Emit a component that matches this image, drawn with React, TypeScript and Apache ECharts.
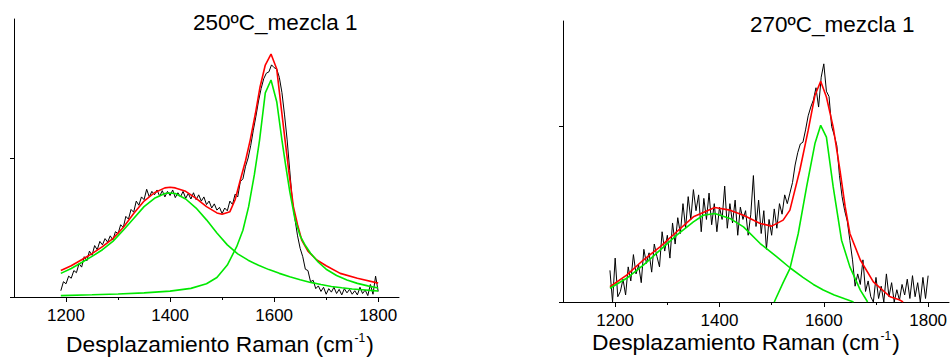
import React, { useEffect, useRef } from "react";
import * as echarts from "echarts";

// ---------- texts and ticks ----------
const leftTitle = "250ºC_mezcla 1";
const rightTitle = "270ºC_mezcla 1";
const axisName = "Desplazamiento Raman (cm{sup|-1})";
const majorTicks = [1200, 1400, 1600, 1800];
const minorTicks = [1300, 1500, 1700];

// ---------- Panel 1: 250ºC_mezcla 1 ----------
// measured spectrum, sampled every 5 cm-1 from 1190 to 1800
const specStart = 1190;
const specStep = 5;
const leftSpectrum = [
  45, 110, 95, 150, 135, 190, 175, 240, 215, 290, 260, 330, 300, 370, 340, 400, 375, 420, 395, 440,
  410, 470, 455, 520, 500, 580, 560, 630, 610, 690, 660, 720, 700, 775, 720, 760, 735, 770, 725, 765,
  720, 760, 730, 770, 715, 750, 720, 760, 710, 745, 705, 750, 700, 735, 690, 720, 665, 690, 640, 670,
  625, 645, 600, 640, 620, 690, 665, 740, 720, 830, 850, 940, 1000, 1090, 1200, 1300, 1410, 1500, 1570, 1610,
  1620, 1670, 1650, 1640, 1580, 1470, 1310, 1130, 910, 690, 560, 440, 350, 290, 200, 190, 110, 120, 60, 80,
  40, 70, 20, 60, 35, 70, 25, 55, 15, 60, 30, 55, 20, 45, 15, 70, 25, 50, 10, 90,
  20, 150, 40,
];
const leftFitX = [1190, 1210, 1230, 1250, 1270, 1290, 1310, 1330, 1350, 1370, 1390, 1400, 1410, 1430, 1450, 1470, 1490, 1500, 1515, 1525, 1535, 1545, 1554, 1564, 1573, 1583, 1594, 1605, 1613, 1621, 1629, 1637, 1645, 1653, 1665, 1682, 1700, 1727, 1760, 1800];
const leftFitY = [190, 225, 268, 312, 362, 420, 500, 600, 690, 750, 785, 790, 785, 760, 710, 650, 605, 595, 614, 700, 842, 980, 1129, 1320, 1513, 1669, 1748, 1640, 1380, 1129, 880, 650, 520, 410, 330, 266, 225, 170, 135, 100];
const leftDX = [1190, 1210, 1230, 1250, 1270, 1290, 1310, 1330, 1350, 1370, 1390, 1400, 1410, 1430, 1450, 1470, 1490, 1510, 1530, 1550, 1570, 1590, 1610, 1630, 1650, 1670, 1690, 1710, 1730, 1750, 1770, 1790, 1800];
const leftDY = [170, 205, 248, 292, 340, 400, 480, 565, 650, 710, 745, 748, 745, 705, 640, 555, 460, 375, 310, 265, 228, 197, 170, 145, 124, 105, 90, 76, 66, 58, 52, 46, 43];
const leftGX = [1190, 1250, 1300, 1350, 1400, 1440, 1470, 1490, 1510, 1528, 1540, 1551, 1562, 1572, 1583, 1594, 1605, 1615, 1622, 1630, 1640, 1650, 1660, 1670, 1685, 1700, 1720, 1740, 1760, 1780, 1800];
const leftGY = [10, 16, 22, 30, 42, 62, 95, 140, 230, 362, 480, 650, 880, 1129, 1468, 1561, 1405, 1129, 950, 760, 560, 440, 370, 315, 250, 200, 155, 122, 98, 80, 65];

// ---------- Panel 2: 270ºC_mezcla 1 ----------
const rightSpectrum = [
  180, 0, 250, 30, 60, 130, 40, 200, 120, 270, 160, 210, 110, 300, 220, 280, 170, 330, 260, 200,
  400, 290, 380, 250, 450, 330, 480, 390, 560, 420, 600, 470, 640, 520, 610, 400, 590, 470, 620, 440,
  560, 400, 540, 470, 660, 420, 560, 450, 580, 380, 540, 470, 520, 380, 500, 720, 430, 580, 390, 520,
  300, 470, 380, 530, 420, 560, 500, 610, 560, 620, 680, 780, 850, 900, 910, 980, 1060, 1110, 1150, 1220,
  1110, 1280, 1356, 1200, 1170, 1000, 950, 890, 720, 600, 520, 460, 350, 240, 90, 160, 100, 240, 60, 120,
  30, 0, 140, 20, 90, 0, 160, 30, 110, 0, 70, 10, 100, 40, 130, 20, 150, 30, 110, 0,
  140, 20, 150,
];
const rightFitX = [1190, 1222, 1254, 1286, 1318, 1350, 1391, 1420, 1446, 1478, 1500, 1522, 1535, 1554, 1570, 1583, 1594, 1605, 1618, 1631, 1641, 1650, 1670, 1695, 1727, 1746, 1752];
const rightFitY = [87, 153, 239, 314, 400, 485, 538, 523, 494, 447, 432, 466, 523, 750, 977, 1176, 1257, 1167, 996, 750, 541, 390, 239, 115, 30, 11, 0];
const rightDX = [1190, 1222, 1254, 1286, 1318, 1350, 1369, 1391, 1420, 1446, 1478, 1510, 1535, 1560, 1580, 1599, 1620, 1640, 1657];
const rightDY = [78, 135, 210, 295, 381, 456, 494, 504, 476, 428, 333, 257, 195, 140, 100, 68, 40, 18, 0];
const rightGX = [1505, 1522, 1535, 1551, 1567, 1583, 1594, 1605, 1618, 1634, 1650, 1670, 1684];
const rightGY = [0, 110, 190, 390, 655, 902, 1006, 939, 655, 352, 200, 68, 0];

const FONT = "'Liberation Sans', Arial, sans-serif";
const BLACK = "#000000";
const RED = "#ff0000";
const GREEN = "#00e800";

const zip = (xs: number[], ys: number[]) => xs.map((x, i) => [x, ys[i]]);
const spec = (ys: number[]) => ys.map((y, i) => [specStart + i * specStep, y]);

function xAxes(gridIndex: number) {
  return [
    {
      type: "value",
      gridIndex,
      position: "bottom",
      min: 1100,
      max: 1840,
      axisLine: { show: true, onZero: false, lineStyle: { color: BLACK, width: 1 } },
      axisTick: { show: true, inside: false, length: 5, customValues: majorTicks, lineStyle: { color: BLACK } },
      axisLabel: {
        show: true,
        customValues: majorTicks,
        formatter: (v: number) => String(v),
        fontSize: 17,
        color: BLACK,
        fontFamily: FONT,
        margin: 10,
      },
      splitLine: { show: false },
    },
    {
      type: "value",
      gridIndex,
      position: "bottom",
      offset: 0,
      min: 1100,
      max: 1840,
      axisLine: { show: false, onZero: false },
      axisTick: { show: true, inside: false, length: 3, customValues: minorTicks, lineStyle: { color: BLACK } },
      axisLabel: { show: false },
      splitLine: { show: false },
    },
  ];
}

function yAxis(gridIndex: number, max: number) {
  return {
    type: "value",
    gridIndex,
    position: "left",
    min: 0,
    max,
    axisLine: { show: true, onZero: false, lineStyle: { color: BLACK, width: 1 } },
    axisTick: { show: true, inside: false, length: 4, customValues: [0, 1000], lineStyle: { color: BLACK } },
    axisLabel: { show: false },
    splitLine: { show: false },
  };
}

function lines(xi: number, yi: number, black: number[][], fit: number[][], d: number[][], g: number[][]) {
  const base = { type: "line", xAxisIndex: xi, yAxisIndex: yi, symbol: "none", showSymbol: false, clip: true, silent: true };
  return [
    { ...base, name: "black", data: black, lineStyle: { color: BLACK, width: 1 }, z: 2 },
    { ...base, name: "fit", data: fit, lineStyle: { color: RED, width: 1.6 }, z: 3 },
    { ...base, name: "d", data: d, lineStyle: { color: GREEN, width: 1.6 }, z: 4 },
    { ...base, name: "g", data: g, lineStyle: { color: GREEN, width: 1.6 }, z: 4 },
  ];
}

const titleStyle = { fontSize: 22.5, fontWeight: "normal", color: BLACK, fontFamily: FONT };
const nameStyle = {
  fontSize: 22.8,
  fontWeight: "normal",
  color: BLACK,
  fontFamily: FONT,
  rich: { sup: { fontSize: 12, fontFamily: FONT, color: BLACK, verticalAlign: "top", padding: [0, 1, 0, 1] } },
};

export default function App() {
  const ref = useRef<HTMLDivElement>(null);
  useEffect(() => {
    if (!ref.current) return;
    const chart = echarts.init(ref.current, null, { renderer: "svg" });
    chart.setOption({
      animation: false,
      backgroundColor: "#ffffff",
      title: [
        { text: leftTitle, left: 193, top: 11, padding: 0, textStyle: titleStyle },
        { text: rightTitle, left: 750, top: 13, padding: 0, textStyle: titleStyle },
        { text: axisName, left: 66, top: 332, padding: 0, textStyle: nameStyle },
        { text: axisName, left: 592, top: 330, padding: 0, textStyle: nameStyle },
      ],
      grid: [
        { left: 14, top: 19, width: 385, height: 278, containLabel: false },
        { left: 563, top: 21, width: 386, height: 281, containLabel: false },
      ],
      xAxis: [...xAxes(0), ...xAxes(1)],
      yAxis: [yAxis(0, 2000), yAxis(1, 1600)],
      series: [
        ...lines(0, 0, spec(leftSpectrum), zip(leftFitX, leftFitY), zip(leftDX, leftDY), zip(leftGX, leftGY)),
        ...lines(2, 1, spec(rightSpectrum), zip(rightFitX, rightFitY), zip(rightDX, rightDY), zip(rightGX, rightGY)),
      ],
    });
    return () => chart.dispose();
  }, []);
  return <div ref={ref} style={{ width: 951, height: 358, position: "absolute", left: 0, top: 0 }} />;
}
